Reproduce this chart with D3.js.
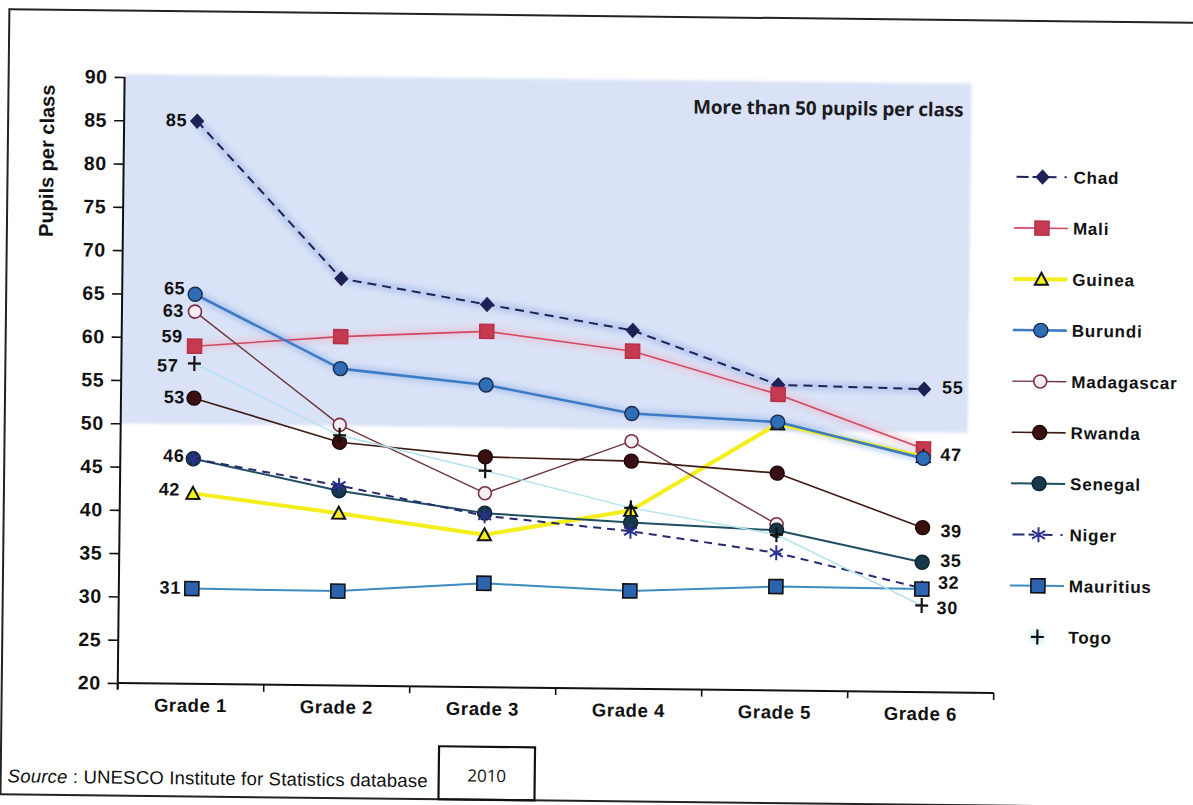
<!DOCTYPE html>
<html>
<head>
<meta charset="utf-8">
<script src="https://cdn.jsdelivr.net/npm/d3@7"></script>
<style>
  html, body { margin: 0; padding: 0; background: #ffffff; }
  svg { display: block; }
</style>
</head>
<body>
<svg id="chart" width="1193" height="805"></svg>
<script>
// ---- data -------------------------------------------------------------
const grades = ["Grade 1", "Grade 2", "Grade 3", "Grade 4", "Grade 5", "Grade 6"];
const yTicks = [20, 25, 30, 35, 40, 45, 50, 55, 60, 65, 70, 75, 80, 85, 90];
const countries = ["Chad", "Mali", "Guinea", "Burundi", "Madagascar",
                   "Rwanda", "Senegal", "Niger", "Mauritius", "Togo"];

// pupils per class, Grade 1 .. Grade 6 (null = grade not offered)
const chad       = [85, 67.0, 64.2, 61.4, 55.3, 55];
const mali       = [59, 60.3, 61.1, 59.0, 54.2, 48.1];
const guinea     = [42, 39.9, 37.6, 40.6, 50.8, 47.2];
const burundi    = [65, 56.6, 54.9, 51.8, 51.0, 47];
const madagascar = [63, 50.1, 42.4, 48.6, 39.2, null];
const rwanda     = [53, 48.1, 46.6, 46.3, 45.1, 39];
const senegal    = [46, 42.5, 40.1, 39.2, 38.5, 35];
const niger      = [46, 43.1, 39.8, 38.2, 35.9, 32];
const mauritius  = [31, 30.9, 32.0, 31.3, 32.0, 31.9];
const togo       = [57, 48.9, 45.0, 40.9, 38.0, 30];

// countries whose first / last value is written beside the line
const labelledFirst = ["Chad", "Burundi", "Madagascar", "Mali", "Togo",
                       "Rwanda", "Senegal", "Guinea", "Mauritius"];
const labelledLast  = ["Chad", "Burundi", "Rwanda", "Senegal", "Niger", "Togo"];

const zoneThreshold = 50;
const zoneNote = "More than 50 pupils per class";
const yTitle = "Pupils per class";
const sourceLead = "Source";
const sourceText = " : UNESCO Institute for Statistics database";
const yearNote = "2010";

const seriesValues = {
  Chad: chad, Mali: mali, Guinea: guinea, Burundi: burundi, Madagascar: madagascar,
  Rwanda: rwanda, Senegal: senegal, Niger: niger, Mauritius: mauritius, Togo: togo
};

// ---- styles -----------------------------------------------------------
const styles = {
  Chad:       { stroke: "#1d2154", width: 2,   dash: "9,6", marker: "diamond",  fill: "#1d2154", mstroke: "#1d2154", halo: "#9fb4ea" },
  Mali:       { stroke: "#cf4862", width: 1.6, dash: null,  marker: "square",   fill: "#c43a50", mstroke: "#b8334a", halo: "#f0b8cc" },
  Guinea:     { stroke: "#f4ee1c", width: 4,   dash: null,  marker: "triangle", fill: "#f4ee1c", mstroke: "#111111" },
  Burundi:    { stroke: "#3d7cc4", width: 2.6, dash: null,  marker: "circle",   fill: "#2f6db4", mstroke: "#1b2a4e", halo: "#93b3ea" },
  Madagascar: { stroke: "#6e3642", width: 1.4, dash: null,  marker: "ring",     fill: "#f6eef2", mstroke: "#7a2f45" },
  Rwanda:     { stroke: "#3d1c14", width: 1.6, dash: null,  marker: "circle",   fill: "#3a0f10", mstroke: "#1a0606" },
  Senegal:    { stroke: "#1f4e63", width: 2,   dash: null,  marker: "circle",   fill: "#163848", mstroke: "#0f2430" },
  Niger:      { stroke: "#262a6e", width: 2,   dash: "8,6", marker: "asterisk", fill: "none",    mstroke: "#2b3190" },
  Mauritius:  { stroke: "#3b8bc0", width: 2,   dash: null,  marker: "square",   fill: "#2d63ae", mstroke: "#111111" },
  Togo:       { stroke: "#b4e2f0", width: 1.5, dash: null,  marker: "plus",     fill: "none",    mstroke: "#111111" }
};

const FONT = "'Liberation Sans', Arial, sans-serif";

// ---- layout -----------------------------------------------------------
const svg = d3.select("#chart");
const root = svg.append("g").attr("transform", "rotate(0.65,596,400)");

const x = d3.scaleBand().domain(grades).range([121, 997]);
const y = d3.scaleLinear().domain([20, 90]).range([688.4, 82.4]);
const cx = g => x(g) + x.bandwidth() / 2;

const defs = svg.append("defs");
const soft = defs.append("filter").attr("id", "soft")
  .attr("x", "-5%").attr("y", "-5%").attr("width", "110%").attr("height", "110%");
soft.append("feGaussianBlur").attr("stdDeviation", 1.6);
const haze = defs.append("filter").attr("id", "haze")
  .attr("x", "-10%").attr("y", "-10%").attr("width", "120%").attr("height", "120%");
haze.append("feGaussianBlur").attr("stdDeviation", 2.5);

// outer frame
root.append("line").attr("x1", 5).attr("x2", 1200).attr("y1", 16).attr("y2", 16)
  .attr("stroke", "#222").attr("stroke-width", 2);
root.append("line").attr("x1", 5).attr("x2", 5).attr("y1", 15).attr("y2", 801)
  .attr("stroke", "#222").attr("stroke-width", 2);
root.append("line").attr("x1", -10).attr("x2", 1200).attr("y1", 801).attr("y2", 801)
  .attr("stroke", "#222").attr("stroke-width", 2);

// shaded zone above the threshold
root.append("rect")
  .attr("x", 121).attr("y", y(90) - 3)
  .attr("width", 968 - 121).attr("height", y(zoneThreshold) - y(90) + 3)
  .attr("fill", "#d9e2f6").attr("filter", "url(#soft)");

root.append("text")
  .attr("x", 960).attr("y", y(90) + 30)
  .attr("text-anchor", "end")
  .attr("font-family", "'Open Sans', sans-serif").attr("font-weight", 700)
  .attr("font-size", 19).attr("letter-spacing", -0.2)
  .attr("fill", "#1b1b22")
  .text(zoneNote);

// y axis
const yAxis = root.append("g").attr("transform", "translate(121,0)")
  .call(d3.axisLeft(y).tickValues(yTicks).tickSize(10).tickPadding(7));
yAxis.select(".domain").attr("stroke", "#111").attr("stroke-width", 2)
  .attr("d", `M0,${y(90)}V${y(20) + 6}`);
yAxis.selectAll(".tick line").attr("stroke", "#111").attr("stroke-width", 1.6);
yAxis.selectAll(".tick text")
  .attr("font-family", FONT).attr("font-weight", 700).attr("font-size", 19.5)
  .attr("letter-spacing", 0.6).attr("fill", "#111");

root.append("text")
  .attr("transform", `translate(51,${(y(90) + y(70)) / 2 - 2}) rotate(-90)`)
  .attr("text-anchor", "middle")
  .attr("font-family", FONT).attr("font-weight", 700).attr("font-size", 20)
  .attr("fill", "#111")
  .text(yTitle);

// x axis with ticks on category boundaries
const xAxis = root.append("g");
const x0 = x.range()[0], x1 = x.range()[1];
xAxis.append("line").attr("x1", x0).attr("x2", x1)
  .attr("y1", y(20)).attr("y2", y(20))
  .attr("stroke", "#111").attr("stroke-width", 2);
const bounds = grades.map(g => x(g)).concat([x1]);
xAxis.selectAll("line.tk").data(bounds).join("line").attr("class", "tk")
  .attr("x1", d => d).attr("x2", d => d)
  .attr("y1", y(20)).attr("y2", y(20) + 7)
  .attr("stroke", "#111").attr("stroke-width", 1.6);
xAxis.selectAll("text").data(grades).join("text")
  .attr("x", d => cx(d)).attr("y", y(20) + 28)
  .attr("text-anchor", "middle")
  .attr("font-family", FONT).attr("font-weight", 700).attr("font-size", 18.5)
  .attr("letter-spacing", 0.6).attr("fill", "#111")
  .text(d => d);

// ---- markers ----------------------------------------------------------
function drawMarker(sel, type, st) {
  if (type === "diamond") {
    sel.append("path").attr("d", "M0,-7L6.5,0L0,7L-6.5,0Z")
      .attr("fill", st.fill).attr("stroke", st.mstroke).attr("stroke-width", 1);
  } else if (type === "square") {
    sel.append("rect").attr("x", -7).attr("y", -7).attr("width", 14).attr("height", 14)
      .attr("fill", st.fill).attr("stroke", st.mstroke).attr("stroke-width", 1.6);
  } else if (type === "triangle") {
    sel.append("path").attr("d", "M0,-6.5L6.5,5.5L-6.5,5.5Z")
      .attr("fill", st.fill).attr("stroke", st.mstroke).attr("stroke-width", 2);
  } else if (type === "circle") {
    sel.append("circle").attr("r", 7)
      .attr("fill", st.fill).attr("stroke", st.mstroke).attr("stroke-width", 1.4);
  } else if (type === "ring") {
    sel.append("circle").attr("r", 6.5)
      .attr("fill", st.fill).attr("stroke", st.mstroke).attr("stroke-width", 1.6);
  } else if (type === "asterisk") {
    sel.append("path").attr("d", "M0,-7.5V7.5M-6.5,-4L6.5,4M-6.5,4L6.5,-4")
      .attr("fill", "none").attr("stroke", st.mstroke).attr("stroke-width", 2);
  } else if (type === "plus") {
    sel.append("path").attr("d", "M-6.5,0H6.5M0,-7.5V7.5")
      .attr("fill", "none").attr("stroke", st.mstroke).attr("stroke-width", 2.2);
  }
}

// ---- series -----------------------------------------------------------
const line = d3.line()
  .defined(d => d.v !== null)
  .x(d => cx(d.g)).y(d => y(d.v));

const plot = root.append("g");

// soft halos that sit under some of the lines
countries.forEach(name => {
  const st = styles[name];
  if (!st.halo) return;
  const pts = grades.map((g, i) => ({ g, v: seriesValues[name][i] }));
  plot.append("path").datum(pts)
    .attr("d", line).attr("fill", "none")
    .attr("stroke", st.halo).attr("stroke-width", 9).attr("stroke-opacity", 0.5)
    .attr("stroke-linejoin", "round").attr("filter", "url(#haze)");
});

countries.forEach(name => {
  const st = styles[name];
  const pts = grades.map((g, i) => ({ g, v: seriesValues[name][i] }));
  const grp = plot.append("g").attr("class", "series");
  grp.append("path").datum(pts)
    .attr("d", line).attr("fill", "none")
    .attr("stroke", st.stroke).attr("stroke-width", st.width)
    .attr("stroke-dasharray", st.dash)
    .attr("stroke-linejoin", "round");
  grp.selectAll("g.m").data(pts.filter(d => d.v !== null)).join("g").attr("class", "m")
    .attr("transform", d => `translate(${cx(d.g)},${y(d.v)})`)
    .each(function () { drawMarker(d3.select(this), st.marker, st); });
});

// ---- value labels -----------------------------------------------------
const firstNudge = { Chad: [-10, -1], Burundi: [-10, -6], Madagascar: [-11, -1], Mali: [-12, -10],
                     Togo: [-16, 2], Rwanda: [-9, -1], Senegal: [-9, -3], Guinea: [-13, -4], Mauritius: [-11, -1] };
const lastNudge  = { Chad: [18, -2], Burundi: [17, -4], Rwanda: [18, 3], Senegal: [18, -2], Niger: [16, -6], Togo: [15, 2] };

const labels = root.append("g")
  .attr("font-family", FONT).attr("font-weight", 700).attr("font-size", 18)
  .attr("letter-spacing", 0.6).attr("fill", "#111");

labelledFirst.forEach(name => {
  const v = seriesValues[name][0];
  const n = firstNudge[name];
  labels.append("text")
    .attr("x", cx(grades[0]) + n[0]).attr("y", y(v) + n[1])
    .attr("dy", "0.35em").attr("text-anchor", "end")
    .text(d3.format(".0f")(v));
});
labelledLast.forEach(name => {
  const v = seriesValues[name][grades.length - 1];
  const n = lastNudge[name];
  labels.append("text")
    .attr("x", cx(grades[grades.length - 1]) + n[0]).attr("y", y(v) + n[1])
    .attr("dy", "0.35em").attr("text-anchor", "start")
    .text(d3.format(".0f")(v));
});

// ---- legend -----------------------------------------------------------
const legend = root.append("g");
countries.forEach((name, i) => {
  const st = styles[name];
  const ly = 172 + i * 51.1;
  const item = legend.append("g").attr("transform", `translate(0,${ly})`);
  if (name === "Togo") {
    item.append("circle").attr("cx", 1040).attr("cy", 0).attr("r", 8)
      .attr("fill", "#c7ecf6").attr("opacity", 0.7).attr("filter", "url(#haze)");
  } else if (st.dash) {
    item.append("path").attr("d", "M1014,0H1026M1030,0H1036M1044,0H1054M1062,0H1064")
      .attr("stroke", st.stroke).attr("stroke-width", 2).attr("fill", "none");
  } else {
    item.append("line").attr("x1", 1012).attr("x2", 1066)
      .attr("stroke", st.stroke).attr("stroke-width", st.width);
  }
  const m = item.append("g").attr("transform", "translate(1040,0)");
  drawMarker(m, st.marker, st);
  item.append("text").attr("x", 1071).attr("y", 0).attr("dy", "0.36em")
    .attr("font-family", FONT).attr("font-weight", 700).attr("font-size", 17)
    .attr("letter-spacing", 0.8).attr("fill", "#111")
    .text(name);
});

// ---- source note ------------------------------------------------------
const src = root.append("text").attr("x", 12).attr("y", 789)
  .attr("font-family", FONT).attr("font-size", 18.5).attr("letter-spacing", 0.2)
  .attr("fill", "#111");
src.append("tspan").attr("font-style", "italic").text(sourceLead);
src.append("tspan").text(sourceText);

root.append("rect").attr("x", 443).attr("y", 748).attr("width", 96).attr("height", 53)
  .attr("fill", "none").attr("stroke", "#111").attr("stroke-width", 2.2);
root.append("text").attr("x", 491).attr("y", 783).attr("text-anchor", "middle")
  .attr("font-family", "'Open Sans', sans-serif").attr("font-size", 17).attr("fill", "#111")
  .text(yearNote);
</script>
</body>
</html>
